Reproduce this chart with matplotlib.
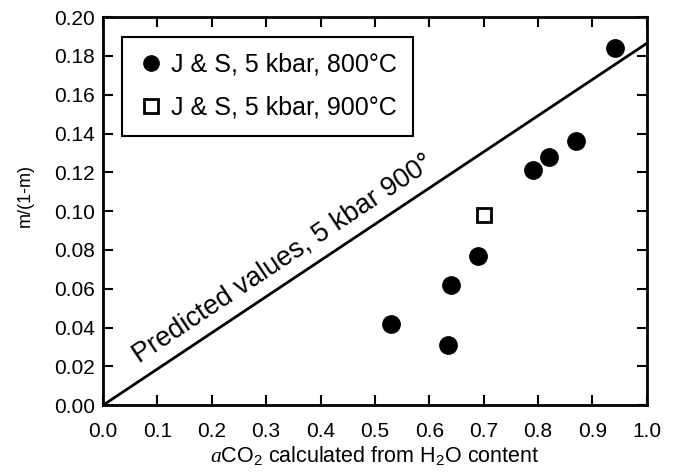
import matplotlib
matplotlib.use('Agg')
import matplotlib.pyplot as plt
import numpy as np

plt.rcParams['font.family'] = ['Liberation Sans', 'DejaVu Sans']
plt.rcParams['mathtext.fontset'] = 'custom'
plt.rcParams['mathtext.rm'] = 'Liberation Sans'
plt.rcParams['mathtext.it'] = 'Liberation Serif:italic'

# data
aco2_800 = [0.53, 0.635, 0.64, 0.69, 0.79, 0.82, 0.87, 0.942]
m_800 = [0.042, 0.031, 0.062, 0.077, 0.121, 0.128, 0.136, 0.184]
aco2_900 = [0.70]
m_900 = [0.098]
pred_x = [0.0, 1.0]
pred_y = [0.0, 0.1865]

fig = plt.figure(figsize=(6.78, 4.75), dpi=100)
ax = fig.add_axes([0.152, 0.147, 0.802, 0.817])

ax.plot(pred_x, pred_y, color='k', lw=2)
ax.plot(aco2_800, m_800, 'o', color='k', ms=12.5, label='J & S, 5 kbar, 800°C')
ax.plot(aco2_900, m_900, 's', mfc='white', mec='k', mew=2, ms=10,
        label='J & S, 5 kbar, 900°C')

# label along the line
ang = np.degrees(np.arctan2(0.1865 * 0.817 * 4.75 / 0.20, 1.0 * 0.802 * 6.78 / 1.0))
ax.text(0.066, 0.0215, 'Predicted values, 5 kbar 900°', rotation=ang,
        rotation_mode='anchor', ha='left', va='baseline', fontsize=19.5)

ax.set_xlim(0, 1.0)
ax.set_ylim(0, 0.20)
ax.set_xticks(np.arange(0, 1.01, 0.1))
ax.set_yticks(np.arange(0, 0.201, 0.02))
ax.set_xticklabels(['%.1f' % v for v in np.arange(0, 1.01, 0.1)])
ax.set_yticklabels(['%.2f' % v for v in np.arange(0, 0.201, 0.02)])
ax.tick_params(direction='in', top=True, right=True, length=7, width=1.5,
               labelsize=15)
ax.tick_params(axis='x', pad=12)
ax.tick_params(axis='y', pad=6)
for s in ax.spines.values():
    s.set_linewidth(2)

ax.set_xlabel(r'$a$CO$_2$ calculated from H$_2$O content', fontsize=15.5, labelpad=2)
ax.set_ylabel('m/(1-m)', fontsize=13)
ax.yaxis.set_label_coords(-0.128, 0.54)

leg = ax.legend(loc='upper left', bbox_to_anchor=(0.035, 0.95), fontsize=18,
                fancybox=False, edgecolor='k', framealpha=1, handletextpad=0.3,
                borderpad=0.65, labelspacing=0.75, handlelength=1.0,
                borderaxespad=0)
leg.get_frame().set_linewidth(1.5)
leg.legend_handles[0].set_markersize(11)

fig.savefig('out.png', dpi=100)
